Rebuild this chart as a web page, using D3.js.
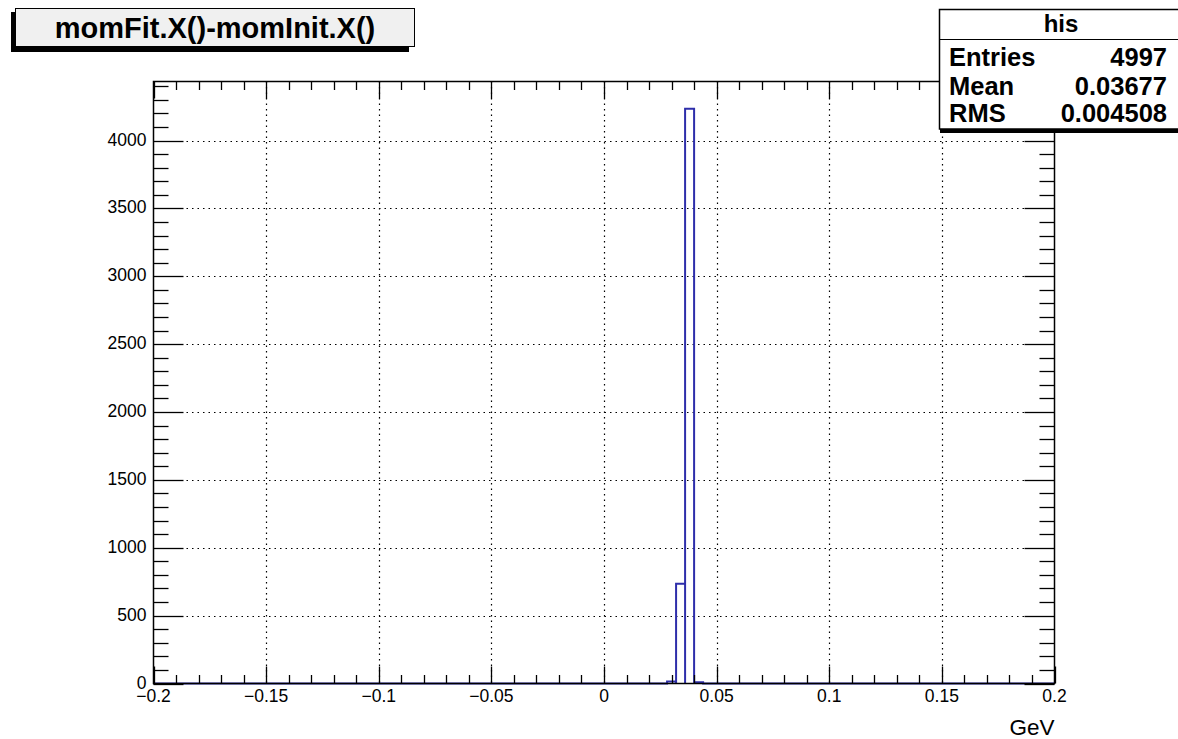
<!DOCTYPE html>
<html>
<head>
<meta charset="utf-8">
<script src="https://cdn.jsdelivr.net/npm/d3@7"></script>
<style>
  html, body { margin: 0; padding: 0; background: #ffffff; }
  svg { display: block; font-family: "Liberation Sans", Arial, Helvetica, sans-serif; }
</style>
</head>
<body>
<svg id="chart" width="1178" height="739"></svg>
<script>
// Histogram "his": momFit.X()-momInit.X(), 100 bins over [-0.2, 0.2] GeV
const xRange = [-0.2, 0.2];
const yRange = [0, 4435];
const binWidth = 0.004;
// non-empty bins (lower edges) and their counts; all other bins are empty
const binLow = [0.028, 0.032, 0.036, 0.040];
const binCounts = [14, 735, 4235, 9];

const xMajorTicks = [-0.2, -0.15, -0.1, -0.05, 0, 0.05, 0.1, 0.15, 0.2];
const xTickLabels = ["\u22120.2", "\u22120.15", "\u22120.1", "\u22120.05", "0", "0.05", "0.1", "0.15", "0.2"];
const yMajorTicks = [0, 500, 1000, 1500, 2000, 2500, 3000, 3500, 4000];
const yTickLabels = ["0", "500", "1000", "1500", "2000", "2500", "3000", "3500", "4000"];

const titleText = "momFit.X()-momInit.X()";
const xAxisTitle = "GeV";
const statsName = "his";
const statsLabels = ["Entries", "Mean", "RMS"];
const statsValues = ["4997", "0.03677", "0.004508"];

const frame = { left: 153.5, right: 1054.5, top: 81.5, bottom: 683.5 };
const histColor = "#2e2eaa";

const svg = d3.select("#chart");
const x = d3.scaleLinear().domain(xRange).range([frame.left, frame.right]);
const y = d3.scaleLinear().domain(yRange).range([frame.bottom, frame.top]);

// grid
const grid = svg.append("g").attr("stroke", "#000").attr("stroke-width", 1.2)
  .attr("stroke-dasharray", "1.5,4");
grid.selectAll("line.gx").data(xMajorTicks.slice(1, -1)).join("line")
  .attr("x1", d => Math.round(x(d)) + 0.5).attr("x2", d => Math.round(x(d)) + 0.5)
  .attr("y1", frame.top).attr("y2", frame.bottom);
grid.selectAll("line.gy").data(yMajorTicks.slice(1)).join("line")
  .attr("y1", d => Math.round(y(d)) + 0.5).attr("y2", d => Math.round(y(d)) + 0.5)
  .attr("x1", frame.left).attr("x2", frame.right);

// histogram outline as a step path
const pts = [[xRange[0], 0]];
binLow.forEach((lo, i) => {
  pts.push([lo, 0], [lo, binCounts[i]], [lo + binWidth, binCounts[i]], [lo + binWidth, 0]);
});
pts.push([xRange[1], 0]);
svg.append("path")
  .attr("d", d3.line().x(d => x(d[0])).y(d => y(d[1]))(pts))
  .attr("fill", "none").attr("stroke", histColor).attr("stroke-width", 2);

// frame
svg.append("rect")
  .attr("x", frame.left).attr("y", frame.top)
  .attr("width", frame.right - frame.left).attr("height", frame.bottom - frame.top)
  .attr("fill", "none").attr("stroke", "#000").attr("stroke-width", 1.5);

// ticks
const ticks = svg.append("g").attr("stroke", "#000").attr("stroke-width", 1.3);
const xMinor = d3.range(-20, 21).map(i => i / 100);
xMinor.forEach(v => {
  const major = xMajorTicks.some(t => Math.abs(t - v) < 1e-9);
  const len = major ? 17 : 8.5;
  const px = Math.round(x(v)) + 0.5;
  ticks.append("line").attr("x1", px).attr("x2", px).attr("y1", frame.bottom).attr("y2", frame.bottom - len);
  ticks.append("line").attr("x1", px).attr("x2", px).attr("y1", frame.top).attr("y2", frame.top + len);
});
const yMinor = d3.range(0, 45).map(i => i * 100);
yMinor.forEach(v => {
  const major = yMajorTicks.includes(v);
  const len = major ? 30 : 15;
  const py = Math.round(y(v)) + 0.5;
  if (py < frame.top) return;
  ticks.append("line").attr("y1", py).attr("y2", py).attr("x1", frame.left).attr("x2", frame.left + len);
  ticks.append("line").attr("y1", py).attr("y2", py).attr("x1", frame.right).attr("x2", frame.right - len);
});

// tick labels
svg.append("g").selectAll("text").data(xMajorTicks).join("text")
  .attr("x", d => x(d)).attr("y", frame.bottom + 18)
  .attr("text-anchor", "middle").attr("font-size", 17.5).attr("fill", "#000")
  .text((d, i) => xTickLabels[i]);
svg.append("g").selectAll("text").data(yMajorTicks).join("text")
  .attr("x", frame.left - 7).attr("y", d => y(d) + 5)
  .attr("text-anchor", "end").attr("font-size", 17.5).attr("fill", "#000")
  .text((d, i) => yTickLabels[i]);

// axis title
svg.append("text").attr("x", frame.right).attr("y", 735)
  .attr("text-anchor", "end").attr("font-size", 22.5).attr("fill", "#000")
  .text(xAxisTitle);

// title box with shadow
svg.append("rect").attr("x", 11).attr("y", 12).attr("width", 398).attr("height", 40).attr("fill", "#000");
svg.append("rect").attr("x", 15.5).attr("y", 8.5).attr("width", 399).attr("height", 38)
  .attr("fill", "#f0f0f0").attr("stroke", "#000").attr("stroke-width", 1);
svg.append("text").attr("x", 215).attr("y", 38).attr("text-anchor", "middle")
  .attr("font-size", 29).attr("font-weight", "bold").attr("fill", "#000").text(titleText);

// statistics box
svg.append("rect").attr("x", 940).attr("y", 128).attr("width", 240).attr("height", 5).attr("fill", "#000");
svg.append("rect").attr("x", 939.5).attr("y", 9.5).attr("width", 245).attr("height", 119.5)
  .attr("fill", "#fff").attr("stroke", "#000").attr("stroke-width", 1.5);
svg.append("line").attr("x1", 939.5).attr("x2", 1178).attr("y1", 39.5).attr("y2", 39.5)
  .attr("stroke", "#000").attr("stroke-width", 1.2);
svg.append("text").attr("x", 1061).attr("y", 32).attr("text-anchor", "middle")
  .attr("font-size", 24).attr("font-weight", "bold").text(statsName);
const rowY = [66, 95, 122];
svg.append("g").selectAll("text").data(statsLabels).join("text")
  .attr("x", 949).attr("y", (d, i) => rowY[i]).attr("font-size", 25.5).attr("font-weight", "bold").text(d => d);
svg.append("g").selectAll("text").data(statsValues).join("text")
  .attr("x", 1167).attr("y", (d, i) => rowY[i]).attr("text-anchor", "end")
  .attr("font-size", 25.5).attr("font-weight", "bold").text(d => d);
</script>
</body>
</html>
